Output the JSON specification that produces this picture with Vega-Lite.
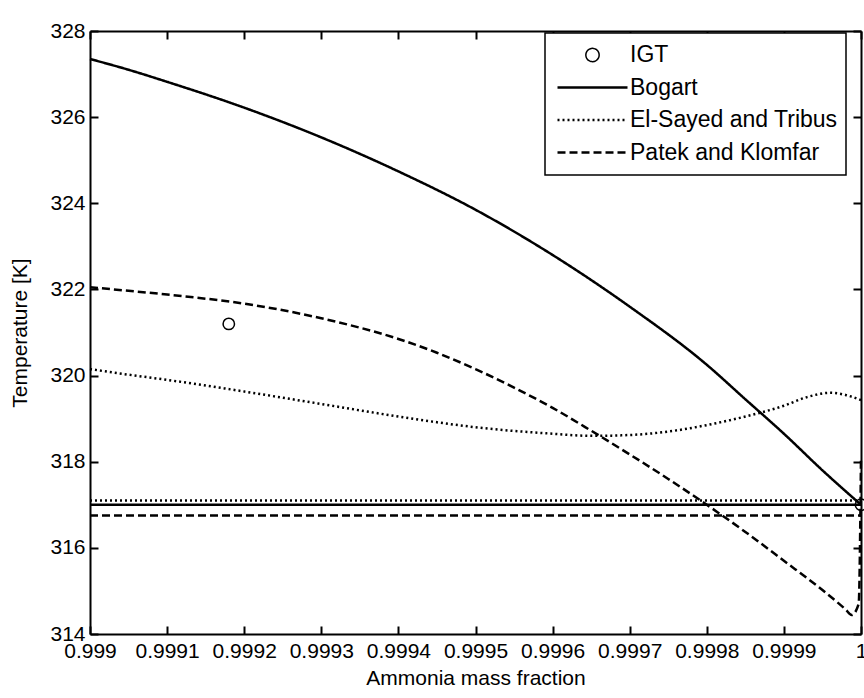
{
  "$schema": "https://vega.github.io/schema/vega-lite/v6.json",
  "width": 771,
  "height": 603,
  "autosize": {"type": "none"},
  "padding": {"left": 90, "top": 31, "right": 3, "bottom": 64},
  "background": "white",
  "config": {
    "view": {"stroke": null},
    "font": "Liberation Sans",
    "axis": {
      "domainColor": "black",
      "domainWidth": 2,
      "tickColor": "black",
      "tickWidth": 2,
      "tickSize": -8,
      "labelColor": "black",
      "labelFontSize": 21,
      "labelFont": "Liberation Sans",
      "titleFont": "Liberation Sans",
      "titleFontSize": 21,
      "titleFontWeight": "normal",
      "titleColor": "black",
      "grid": false,
      "labelFlush": false,
      "labelOverlap": false
    }
  },
  "resolve": {"axis": {"x": "independent", "y": "independent"}},
  "layer": [
    {
      "data": {
        "values": [
          {"x": 0.99900, "y": 327.35, "s": "Bogart", "part": "c"},
          {"x": 0.99905, "y": 327.1, "s": "Bogart", "part": "c"},
          {"x": 0.99910, "y": 326.82, "s": "Bogart", "part": "c"},
          {"x": 0.99920, "y": 326.22, "s": "Bogart", "part": "c"},
          {"x": 0.99930, "y": 325.53, "s": "Bogart", "part": "c"},
          {"x": 0.99940, "y": 324.74, "s": "Bogart", "part": "c"},
          {"x": 0.99950, "y": 323.85, "s": "Bogart", "part": "c"},
          {"x": 0.99960, "y": 322.8, "s": "Bogart", "part": "c"},
          {"x": 0.99970, "y": 321.6, "s": "Bogart", "part": "c"},
          {"x": 0.99980, "y": 320.25, "s": "Bogart", "part": "c"},
          {"x": 0.99985, "y": 319.45, "s": "Bogart", "part": "c"},
          {"x": 0.99990, "y": 318.65, "s": "Bogart", "part": "c"},
          {"x": 0.99995, "y": 317.8, "s": "Bogart", "part": "c"},
          {"x": 1.00000, "y": 317.0, "s": "Bogart", "part": "c"},
          {"x": 0.99900, "y": 317.0, "s": "Bogart", "part": "h"},
          {"x": 1.00000, "y": 317.0, "s": "Bogart", "part": "h"},
          {"x": 0.99900, "y": 320.15, "s": "El-Sayed and Tribus", "part": "c"},
          {"x": 0.99905, "y": 320.02, "s": "El-Sayed and Tribus", "part": "c"},
          {"x": 0.99910, "y": 319.9, "s": "El-Sayed and Tribus", "part": "c"},
          {"x": 0.99920, "y": 319.63, "s": "El-Sayed and Tribus", "part": "c"},
          {"x": 0.99930, "y": 319.34, "s": "El-Sayed and Tribus", "part": "c"},
          {"x": 0.99940, "y": 319.05, "s": "El-Sayed and Tribus", "part": "c"},
          {"x": 0.99950, "y": 318.8, "s": "El-Sayed and Tribus", "part": "c"},
          {"x": 0.99960, "y": 318.65, "s": "El-Sayed and Tribus", "part": "c"},
          {"x": 0.99965, "y": 318.6, "s": "El-Sayed and Tribus", "part": "c"},
          {"x": 0.99970, "y": 318.62, "s": "El-Sayed and Tribus", "part": "c"},
          {"x": 0.99975, "y": 318.7, "s": "El-Sayed and Tribus", "part": "c"},
          {"x": 0.99980, "y": 318.85, "s": "El-Sayed and Tribus", "part": "c"},
          {"x": 0.99985, "y": 319.05, "s": "El-Sayed and Tribus", "part": "c"},
          {"x": 0.99990, "y": 319.3, "s": "El-Sayed and Tribus", "part": "c"},
          {"x": 0.99993, "y": 319.5, "s": "El-Sayed and Tribus", "part": "c"},
          {"x": 0.99996, "y": 319.6, "s": "El-Sayed and Tribus", "part": "c"},
          {"x": 0.99998, "y": 319.55, "s": "El-Sayed and Tribus", "part": "c"},
          {"x": 1.00000, "y": 319.43, "s": "El-Sayed and Tribus", "part": "c"},
          {"x": 0.99900, "y": 317.1, "s": "El-Sayed and Tribus", "part": "h"},
          {"x": 1.00000, "y": 317.1, "s": "El-Sayed and Tribus", "part": "h"},
          {"x": 0.99900, "y": 322.05, "s": "Patek and Klomfar", "part": "c"},
          {"x": 0.99910, "y": 321.88, "s": "Patek and Klomfar", "part": "c"},
          {"x": 0.99920, "y": 321.67, "s": "Patek and Klomfar", "part": "c"},
          {"x": 0.99930, "y": 321.33, "s": "Patek and Klomfar", "part": "c"},
          {"x": 0.99940, "y": 320.85, "s": "Patek and Klomfar", "part": "c"},
          {"x": 0.99945, "y": 320.53, "s": "Patek and Klomfar", "part": "c"},
          {"x": 0.99950, "y": 320.15, "s": "Patek and Klomfar", "part": "c"},
          {"x": 0.99955, "y": 319.72, "s": "Patek and Klomfar", "part": "c"},
          {"x": 0.99960, "y": 319.25, "s": "Patek and Klomfar", "part": "c"},
          {"x": 0.99965, "y": 318.72, "s": "Patek and Klomfar", "part": "c"},
          {"x": 0.99970, "y": 318.17, "s": "Patek and Klomfar", "part": "c"},
          {"x": 0.99975, "y": 317.6, "s": "Patek and Klomfar", "part": "c"},
          {"x": 0.99980, "y": 317.0, "s": "Patek and Klomfar", "part": "c"},
          {"x": 0.99985, "y": 316.37, "s": "Patek and Klomfar", "part": "c"},
          {"x": 0.99990, "y": 315.7, "s": "Patek and Klomfar", "part": "c"},
          {"x": 0.99995, "y": 315.02, "s": "Patek and Klomfar", "part": "c"},
          {"x": 0.99998, "y": 314.57, "s": "Patek and Klomfar", "part": "c"},
          {"x": 0.999988, "y": 314.44, "s": "Patek and Klomfar", "part": "c"},
          {"x": 0.999997, "y": 314.7, "s": "Patek and Klomfar", "part": "c"},
          {"x": 1.00000, "y": 318.1, "s": "Patek and Klomfar", "part": "c"},
          {"x": 0.99900, "y": 316.75, "s": "Patek and Klomfar", "part": "h"},
          {"x": 1.00000, "y": 316.75, "s": "Patek and Klomfar", "part": "h"}
        ]
      },
      "mark": {"type": "line", "interpolate": "monotone", "strokeWidth": 2.5, "color": "black"},
      "encoding": {
        "x": {
          "field": "x", "type": "quantitative",
          "scale": {"domain": [0.999, 1], "nice": false, "zero": false},
          "axis": {
            "orient": "bottom",
            "values": [0.999, 0.9991, 0.9992, 0.9993, 0.9994, 0.9995, 0.9996, 0.9997, 0.9998, 0.9999, 1],
            "format": ".4~f",
            "labelPadding": 14,
            "title": "Ammonia mass fraction",
            "titlePadding": 6
          }
        },
        "y": {
          "field": "y", "type": "quantitative",
          "scale": {"domain": [314, 328], "nice": false, "zero": false},
          "axis": {
            "orient": "left",
            "values": [314, 316, 318, 320, 322, 324, 326, 328],
            "labelPadding": 13,
            "title": "Temperature [K]",
            "titlePadding": 19
          }
        },
        "strokeDash": {
          "field": "s", "type": "nominal",
          "scale": {
            "domain": ["IGT", "Bogart", "El-Sayed and Tribus", "Patek and Klomfar"],
            "range": [[1, 0], [1, 0], [2, 3], [8, 4]]
          },
          "legend": {
            "orient": "none",
            "legendX": 455,
            "legendY": 2,
            "title": null,
            "symbolType": "stroke",
            "symbolSize": 4900,
            "symbolStrokeWidth": 2.5,
            "symbolStrokeColor": "black",
            "symbolOffset": 28,
            "clipHeight": 28,
            "rowPadding": 4.5,
            "labelOffset": 26,
            "padding": 8,
            "strokeColor": "black",
            "fillColor": "white",
            "labelFontSize": 23,
            "labelColor": "black",
            "labelFont": "Liberation Sans",
            "labelLimit": 400,
            "encode": {
              "symbols": {
                "update": {
                  "shape": {"signal": "datum.value === 'IGT' ? 'M0.19,0A0.19,0.19,0,1,1,-0.19,0A0.19,0.19,0,1,1,0.19,0Z' : 'stroke'"},
                  "strokeWidth": {"signal": "datum.value === 'IGT' ? 1.5 : 2.5"},
                  "fill": {"value": "transparent"},
                  "stroke": {"value": "black"}
                }
              },
              "legend": {"update": {"strokeWidth": {"value": 1.5}}}
            }
          }
        },
        "detail": {"field": "part", "type": "nominal"}
      }
    },
    {
      "data": {
        "values": [
          {"x": 0.99918, "y": 321.2},
          {"x": 1.0, "y": 317.0}
        ]
      },
      "mark": {"type": "point", "shape": "circle", "filled": false, "size": 130, "strokeWidth": 1.5, "color": "black", "opacity": 1},
      "encoding": {
        "x": {
          "field": "x", "type": "quantitative",
          "axis": {
            "orient": "top",
            "values": [0.999, 0.9991, 0.9992, 0.9993, 0.9994, 0.9995, 0.9996, 0.9997, 0.9998, 0.9999, 1],
            "labels": false,
            "title": null
          }
        },
        "y": {
          "field": "y", "type": "quantitative",
          "axis": {
            "orient": "right",
            "values": [314, 316, 318, 320, 322, 324, 326, 328],
            "labels": false,
            "title": null
          }
        }
      }
    }
  ]
}
